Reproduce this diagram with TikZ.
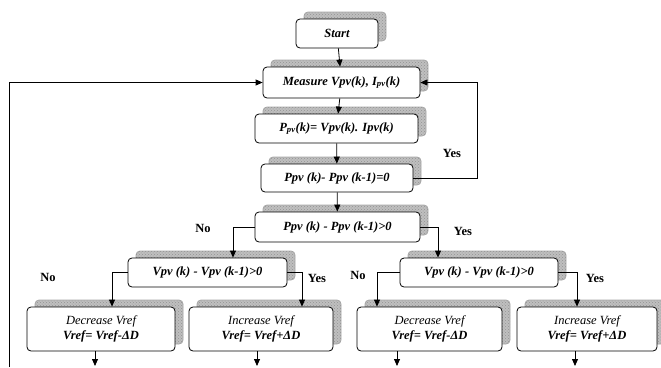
\documentclass[tikz,border=0pt]{standalone}
\usepackage{fontspec}
\setmainfont{Liberation Serif}
\usetikzlibrary{shadows,arrows.meta,patterns}
\newcommand{\flowsize}{\fontsize{12.5}{14.5}\selectfont}
\tikzset{
  box/.style={draw, line width=0.8pt, rounded corners=4pt, fill=white, align=center, inner sep=1pt,
    font=\flowsize\bfseries\itshape,
    copy shadow={shadow xshift=8pt, shadow yshift=7pt, fill=gray!50, draw=gray!70, sharp corners,
      postaction={pattern=crosshatch dots, pattern color=gray!85}}},
  flow/.style={line width=0.8pt, -{Triangle[length=7pt,width=6pt]}},
  lbl/.style={font=\flowsize\bfseries}
}
\begin{document}
\begin{tikzpicture}[x=1pt,y=-1pt]
    \useasboundingbox (0,0) rectangle (661,367);
    % main column
    \node (start) at (337,33.5) [box, minimum width=82, minimum height=29] {Start};
    \node (measure) at (341.5,82.5) [box, minimum width=157, minimum height=31] {Measure Vpv(k), I\textsubscript{pv}(k)};
    \node (power) at (336.5,128.5) [box, minimum width=163, minimum height=29] {P\textsubscript{pv}(k)= Vpv(k). Ipv(k)};
    \node (eqzero) at (337,178) [box, minimum width=152, minimum height=28] {Ppv (k)- Ppv (k-1)=0};
    \node (gtzero) at (337.5,227) [box, minimum width=165, minimum height=30] {Ppv (k) - Ppv (k-1)>0};
    % voltage tests
    \node (vleft) at (207.5,272.5) [box, minimum width=159, minimum height=29] {Vpv (k) - Vpv (k-1)>0};
    \node (vright) at (479,272.5) [box, minimum width=158, minimum height=29] {Vpv (k) - Vpv (k-1)>0};
    % duty updates
    \node (decleft) at (101,329) [box, minimum width=148, minimum height=44] {{\mdseries Decrease Vref}\\Vref= Vref-ΔD};
    \node (incleft) at (261,329) [box, minimum width=144, minimum height=44] {{\mdseries Increase Vref}\\Vref= Vref+ΔD};
    \node (decright) at (429.5,329) [box, minimum width=145, minimum height=44] {{\mdseries Decrease Vref}\\Vref= Vref-ΔD};
    \node (incright) at (587,329) [box, minimum width=140, minimum height=44] {{\mdseries Increase Vref}\\Vref= Vref+ΔD};
    % labels
    \node (yestop) at (452,153) [lbl] {Yes};
    \node (nomid) at (203,228) [lbl] {No};
    \node (yesmid) at (463,231) [lbl] {Yes};
    \node (noleft) at (48,277) [lbl] {No};
    \node (yesleft) at (317,278) [lbl] {Yes};
    \node (noright) at (358,275) [lbl] {No};
    \node (yesright) at (595,278) [lbl] {Yes};
    % free ends
    \coordinate (loopin) at (9,367);
    \coordinate (outa) at (95,366);
    \coordinate (outb) at (257,366);
    \coordinate (outc) at (397,366);
    \coordinate (outd) at (575,366);
    % connectors
    \draw[flow] (start) -- (measure);
    \draw[flow] (measure) -- (power);
    \draw[flow] (power) -- (eqzero);
    \draw[flow] (eqzero) -- (gtzero);
    \draw[flow] (eqzero.east) -- ++(64,0) |- (measure.east);
    \draw[flow] (loopin) |- (measure.west);
    \draw[flow] (gtzero.west) -| ([xshift=25.5]vleft.north);
    \draw[flow] (gtzero.east) -| ([xshift=-41]vright.north);
    \draw[flow] (vleft.west) -| ([xshift=11]decleft.north);
    \draw[flow] (vleft.east) -| ([xshift=41]incleft.north);
    \draw[flow] (vright.west) -| ([xshift=-52.5]decright.north);
    \draw[flow] (vright.east) -| ([xshift=-10]incright.north);
    \draw[flow] (outa |- decleft.south) -- (outa);
    \draw[flow] (outb |- incleft.south) -- (outb);
    \draw[flow] (outc |- decright.south) -- (outc);
    \draw[flow] (outd |- incright.south) -- (outd);
\end{tikzpicture}
\end{document}
